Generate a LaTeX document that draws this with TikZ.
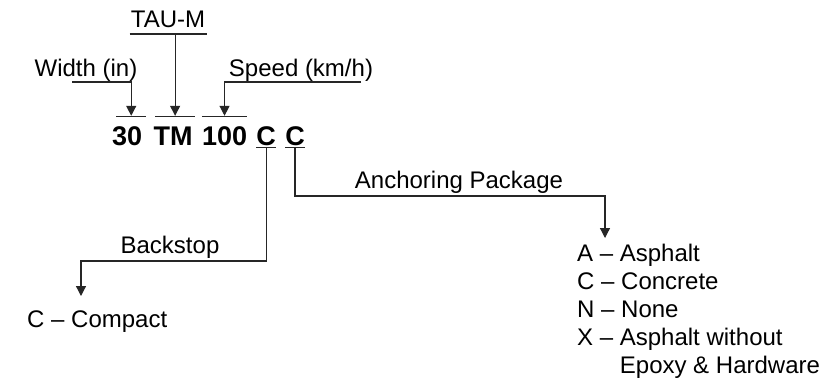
\documentclass[tikz,border=0pt]{standalone}
\usepackage{fontspec}
\setmainfont{Liberation Sans}
\usetikzlibrary{positioning,arrows.meta}

\begin{document}
\begin{tikzpicture}[
  x=1pt, y=-1pt,
  node distance=9pt,
  lbl/.style={inner sep=0pt, anchor=base, font=\fontsize{24}{28}\selectfont},
  code/.style={inner sep=0pt, text height=19pt, text depth=0pt,
               font=\fontsize{27}{30}\selectfont\bfseries},
  rule/.style={line width=1.25pt, draw=black!85},
  arr/.style={rule, -{Triangle[length=10pt,width=10pt]}}
]
\useasboundingbox (0,0) rectangle (837,384);

% the part number
\node[code, anchor=base west] (n30) at (112,145) {30};
\node[code, right=11pt of n30] (nTM) {TM};
\node[code, right=of nTM] (n100) {100};
\node[code, right=of n100] (nC1) {C};
\node[code, right=of nC1] (nC2) {C};

\foreach \n/\s in {n30/4pt,nTM/2pt,n100/0pt} {
  \draw[rule] ([xshift=\s,yshift=9pt]\n.north west) -- ([xshift=\s,yshift=9pt]\n.north east);
  \coordinate (\n-top) at ([xshift=\s,yshift=10pt]\n.north);
}
\foreach \n in {nC1,nC2} {
  \draw[rule] ([yshift=-2pt]\n.south west) -- ([yshift=-2pt]\n.south east);
  \coordinate (\n-low) at ([yshift=-2pt]\n.south);
}

% field labels
\node[lbl] (tau) at (168,27) {TAU-M};
\node[lbl] (width) at (86,76) {Width (in)};
\node[lbl] (speed) at (301,76) {Speed (km/h)};
\node[lbl] (backstop) at (170,253) {Backstop};
\node[lbl] (anchor) at (459,188) {Anchoring Package};
\node[lbl, anchor=base west] (compact) at (27,327) {C -- Compact};
\node[lbl, anchor=north west, align=left] (anchorlist) at (577,244)
  {A -- Asphalt\\C -- Concrete\\N -- None\\X -- Asphalt without\\\phantom{X -- }Epoxy \& Hardware};

% leaders
\coordinate (tau-line) at ([yshift=-7pt]tau.base);
\draw[rule] ([xshift=-1pt,yshift=-7pt]tau.base west) -- ([xshift=2pt,yshift=-7pt]tau.base east);
\draw[arr] (tau-line -| nTM-top) -- (nTM-top);
\draw[arr] ([xshift=-14pt,yshift=-6pt]width.base) -| (n30-top);
\draw[arr] ([xshift=-12pt,yshift=-6pt]speed.base east) -| (n100-top);

\coordinate (bk-turn) at (81,261);
\coordinate (bk-end) at (81,296);
\draw[arr] (nC1-low) |- (bk-turn) -- (bk-end);

\coordinate (an-turn) at (605,196);
\coordinate (an-end) at (605,238);
\draw[arr] (nC2-low) |- (an-turn) -- (an-end);
\end{tikzpicture}
\end{document}
